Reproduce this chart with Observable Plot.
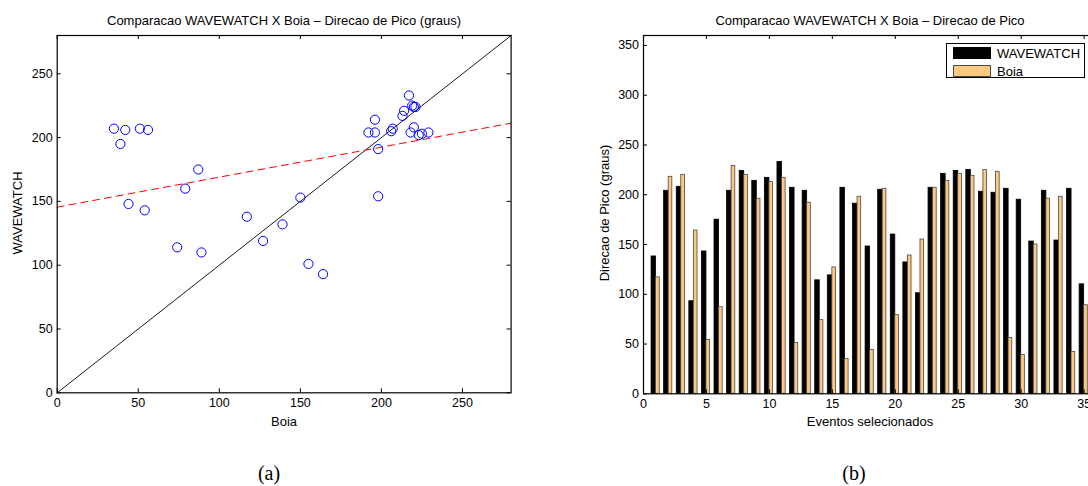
<!DOCTYPE html>
<html><head><meta charset="utf-8">
<script src="https://cdn.jsdelivr.net/npm/d3@7"></script>
<script src="https://cdn.jsdelivr.net/npm/@observablehq/plot@0.6"></script>
<style>
html,body{margin:0;padding:0;background:#fff;}
#wrap{position:relative;width:1088px;height:486px;overflow:hidden;font-family:"Liberation Sans",Arial,sans-serif;color:#000;}
.lbl{position:absolute;white-space:nowrap;transform:translate(-50%,-50%);font-size:13px;line-height:1;}
.rot{transform:translate(-50%,-50%) rotate(-90deg);}
.cap{font-family:"Liberation Serif","Times New Roman",serif;font-size:20px;}
.svgbox{position:absolute;top:0;}
#legend{position:absolute;left:946px;top:43px;width:139px;height:35px;border:1px solid #000;background:#fff;box-sizing:border-box;}
.sw{position:absolute;left:6px;width:38px;height:12px;box-sizing:border-box;}
.lt{position:absolute;left:50px;font-size:13px;line-height:1;}
</style></head><body><div id="wrap"></div>
<script>
// ---- data ----
const events = [1,2,3,4,5,6,7,8,9,10,11,12,13,14,15,16,17,18,19,20,21,22,23,24,25,26,27,28,29,30,31,32,33,34,35];
const wavewatch = [138,204,208,93,143,175,204,224,214,217,233,207,204,114,119,207,191,148,205,160,132,101,207,221,224,225,203,202,206,195,153,204,154,206,110];
const boia = [117,218,220,164,54,87,229,220,196,213,217,51,192,74,127,35,198,44,206,79,139,155,207,214,221,219,225,223,56,39,150,196,198,42,89];
const xTicksA = [0,50,100,150,200,250];
const yTicksA = [0,50,100,150,200,250];
const xTicksB = [0,5,10,15,20,25,30,35];
const yTicksB = [0,50,100,150,200,250,300,350];
const fitBoia = [0,280];
const fitWave = [145.5,211.3];
const idLine = [0,280];
const seriesNames = ["WAVEWATCH","Boia"];

const wrap = document.getElementById("wrap");
const fontStyle = {fontFamily:"'Liberation Sans', Arial, sans-serif", fontSize:"12.5px", color:"#000", background:"transparent", overflow:"visible"};

// ---- panel (a) ----
{
  const W = 544, H = 486, ml = 56.7, mr = W - 510.6, mt = 35, mb = H - 392.3;
  const xd = [0,280], yd = [0,280];
  const tx = 4 * (xd[1]-xd[0]) / (W - ml - mr);
  const ty = 4 * (yd[1]-yd[0]) / (H - mt - mb);
  const pts = events.map((e,i)=>({b: boia[i], w: wavewatch[i]}));
  const fit = fitBoia.map((x,i)=>({x, y: fitWave[i]}));
  const id = idLine.map(v=>({x:v,y:v}));
  const p = Plot.plot({
    width: W, height: H, marginLeft: ml, marginRight: mr, marginTop: mt, marginBottom: mb,
    style: fontStyle,
    x: {domain: xd, axis: null}, y: {domain: yd, axis: null},
    marks: [
      Plot.line(id, {x:"x", y:"y", stroke:"#000", strokeWidth:0.9}),
      Plot.line(fit, {x:"x", y:"y", stroke:"#ff0000", strokeWidth:1, strokeDasharray:"7,5"}),
      Plot.dot(pts, {x:"b", y:"w", r:4.6, stroke:"#0000ff", strokeWidth:1, fill:"none"}),
      Plot.ruleX(xTicksA, {x:d=>d, y1:yd[0], y2:yd[0]+ty, stroke:"#000"}),
      Plot.ruleX(xTicksA, {x:d=>d, y1:yd[1]-ty, y2:yd[1], stroke:"#000"}),
      Plot.ruleY(yTicksA, {y:d=>d, x1:xd[0], x2:xd[0]+tx, stroke:"#000"}),
      Plot.ruleY(yTicksA, {y:d=>d, x1:xd[1]-tx, x2:xd[1], stroke:"#000"}),
      Plot.axisX({ticks: xTicksA, tickSize:0, tickPadding:5, label:null}),
      Plot.axisY({ticks: yTicksA, tickSize:0, tickPadding:4.5, label:null}),
      Plot.frame({stroke:"#000", strokeWidth:1.2})
    ]
  });
  p.classList.add("svgbox"); p.style.left = "0px";
  wrap.appendChild(p);
}

// ---- panel (b) ----
{
  const L = 544, W = 600, H = 486, ml = 643 - L, mt = 35, mb = H - 393.3;
  const xd = [0,36], yd = [0,360];
  const mr = W - ml - 12.59 * (xd[1]-xd[0]);
  const tx = 4 * (xd[1]-xd[0]) / (W - ml - mr);
  const ty = 4 * (yd[1]-yd[0]) / (H - mt - mb);
  const bars = events.map((e,i)=>({e, w: wavewatch[i], b: boia[i]}));
  const p = Plot.plot({
    width: W, height: H, marginLeft: ml, marginRight: mr, marginTop: mt, marginBottom: mb,
    style: fontStyle,
    x: {domain: xd, axis: null}, y: {domain: yd, axis: null},
    marks: [
      Plot.rect(bars, {x1:d=>d.e-0.36, x2:d=>d.e, y1:0, y2:"w", fill:"#000", stroke:"#000", strokeWidth:0.8}),
      Plot.rect(bars, {x1:d=>d.e, x2:d=>d.e+0.29, y1:0, y2:"b", fill:"#ffc880", stroke:"#4a4a4a", strokeWidth:0.8}),
      Plot.ruleX(xTicksB, {x:d=>d, y1:yd[0], y2:yd[0]+ty, stroke:"#000"}),
      Plot.ruleX(xTicksB, {x:d=>d, y1:yd[1]-ty, y2:yd[1], stroke:"#000"}),
      Plot.ruleY(yTicksB, {y:d=>d, x1:xd[0], x2:xd[0]+tx, stroke:"#000"}),
      Plot.axisX({ticks: xTicksB, tickSize:0, tickPadding:5, label:null}),
      Plot.axisY({ticks: yTicksB, tickSize:0, tickPadding:4.5, label:null}),
      Plot.frame({stroke:"#000", strokeWidth:1.2})
    ]
  });
  p.classList.add("svgbox"); p.style.left = L + "px";
  wrap.appendChild(p);
}

// ---- text ----
function lbl(text, x, y, cls) {
  const d = document.createElement("div");
  d.className = "lbl" + (cls ? " " + cls : "");
  d.textContent = text;
  d.style.left = x + "px"; d.style.top = y + "px";
  wrap.appendChild(d);
}
lbl("Comparacao WAVEWATCH X Boia \u2013 Direcao de Pico (graus)", 284, 20);
lbl("Boia", 284, 421);
lbl("WAVEWATCH", 17, 213, "rot");
lbl("(a)", 269, 473, "cap");
lbl("Comparacao WAVEWATCH X Boia \u2013 Direcao de Pico", 870, 20);
lbl("Eventos selecionados", 870, 421);
lbl("Direcao de Pico (graus)", 604, 213, "rot");
lbl("(b)", 854, 473, "cap");

// legend
const lg = document.createElement("div");
lg.id = "legend";
const cols = ["#000","#ffc880"], strokes = ["#000","#4a4a4a"];
seriesNames.forEach((n,i)=>{
  const s = document.createElement("div");
  s.className = "sw"; s.style.top = (3 + i*17.5) + "px";
  s.style.background = cols[i]; s.style.border = "1px solid " + strokes[i];
  lg.appendChild(s);
  const t = document.createElement("div");
  t.className = "lt"; t.style.top = (3 + i*17.5) + "px";
  t.textContent = n;
  lg.appendChild(t);
});
wrap.appendChild(lg);
</script></body></html>
